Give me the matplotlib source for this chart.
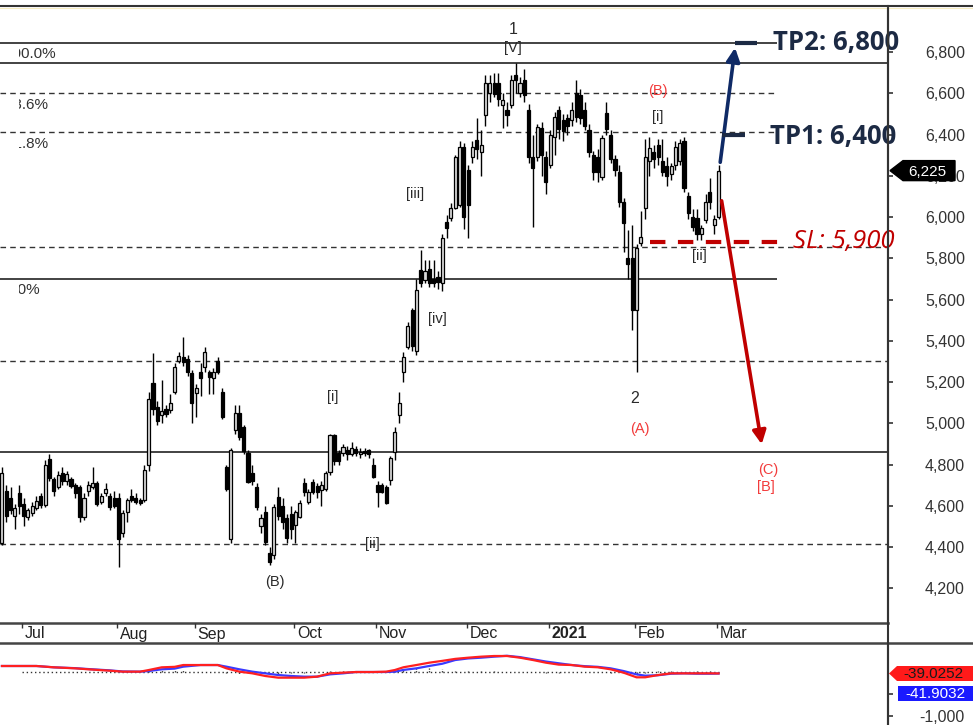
import matplotlib
matplotlib.use('Agg')
import matplotlib.pyplot as plt
from matplotlib.patches import Polygon, FancyArrowPatch
from matplotlib.lines import Line2D
from matplotlib.ticker import FuncFormatter
from matplotlib.transforms import blended_transform_factory, Bbox, TransformedBbox
import numpy as np

# ---------------- data ----------------
opens = [4420,4670,4640,4550,4660,4610,4545,4565,4590,4650,4605,4825,4730,4690,4760,4720,4730,4700,4690,4545,
         4670,4690,4710,4620,4660,4650,4640,4640,4470,4570,4650,4640,4630,4630,4800,5195,5080,5040,5070,5065,
         5150,5300,5320,5310,5245,5145,5250,5275,5250,5220,5300,5150,4790,4440,4970,5050,4980,4855,4760,4690,
         4500,4570,4370,4360,4645,4600,4540,4560,4505,4545,4710,4620,4715,4695,4677,4680,4765,4945,4855,4855,
         4870,4850,4875,4850,4868,4870,4800,4700,4700,4690,4725,4860,5040,5250,5370,5550,5350,5745,5695,5750,
         5700,5710,5680,5975,5995,6045,6060,6340,6230,6290,6373,6315,6495,6600,6650,6650,6545,6520,6545,6690,
         6600,6665,6520,6290,6290,6430,6290,6250,6390,6520,6470,6480,6470,6600,6590,6520,6420,6300,6290,6195,
         6505,6400,6280,6220,6075,5800,5800,5550,5875,6045,6270,6315,6350,6270,6245,6210,6250,6270,6370,6100,
         6000,5995,5920,5985,6120,5960,6000]
highs = [4790,4700,4690,4610,4700,4640,4590,4620,4650,4660,4820,4850,4740,4770,4790,4770,4740,4710,4700,4660,
         4720,4790,4720,4660,4710,4660,4670,4660,4580,4640,4680,4660,4640,4800,5150,5340,5110,5210,5090,5140,
         5290,5345,5420,5330,5260,5190,5290,5370,5260,5270,5320,5170,4800,4880,5090,5090,4990,4870,4800,4710,
         4560,4600,4400,4610,4690,4640,4560,4600,4580,4630,4735,4680,4730,4710,4720,4770,4950,4950,4870,4900,
         4890,4910,4890,4880,4880,4875,4830,4720,4710,4700,4840,4980,5150,5345,5490,5560,5700,5840,5790,5790,
         5790,5740,5920,6010,6070,6300,6370,6360,6250,6370,6480,6420,6690,6690,6700,6700,6600,6560,6690,6747,
         6680,6720,6550,6400,6450,6460,6320,6420,6510,6540,6500,6500,6560,6665,6620,6560,6450,6320,6330,6400,
         6560,6420,6300,6250,6090,5935,5960,5870,6030,6380,6390,6350,6380,6380,6290,6260,6370,6380,6390,6120,
         6040,6040,5960,6110,6190,6010,6250]
lows = [4410,4520,4560,4490,4560,4500,4530,4550,4580,4590,4595,4720,4650,4680,4700,4700,4685,4640,4520,4530,
        4650,4680,4600,4610,4650,4580,4590,4305,4450,4520,4620,4610,4605,4620,4770,5040,4990,5000,5030,5050,
        5140,5290,5280,5230,5000,5030,5130,5250,5140,5140,5240,5020,4670,4420,4950,4920,4850,4710,4700,4580,
        4470,4410,4315,4340,4530,4490,4420,4440,4420,4540,4650,4610,4655,4640,4600,4670,4750,4800,4800,4840,
        4820,4840,4840,4830,4840,4830,4735,4595,4660,4610,4700,4820,5000,5200,5360,5350,5330,5660,5680,5660,
        5660,5650,5640,5900,5980,6040,6050,5940,5900,6260,6280,6200,6440,6560,6580,6540,6430,6440,6530,6600,
        6580,6560,6260,5950,6270,6200,6110,6240,6300,6380,6370,6400,6440,6460,6450,6420,6290,6180,6170,6180,
        6400,6260,6200,6050,5830,5700,5450,5250,5860,5990,6200,6240,6250,6200,6150,6180,6230,6250,6120,5990,
        5930,5890,5890,5970,6040,5920,5990]
closes = [4760,4550,4580,4590,4600,4550,4580,4600,4625,4605,4800,4735,4670,4750,4720,4755,4695,4660,4545,4640,
          4700,4710,4610,4650,4680,4595,4600,4440,4565,4630,4630,4620,4615,4775,5120,5070,5010,5060,5045,5100,
          5275,5325,5295,5250,5100,5170,5220,5345,5225,5250,5250,5030,4680,4870,5050,4935,4865,4715,4720,4595,
          4540,4425,4330,4595,4550,4520,4445,4490,4570,4615,4665,4668,4665,4665,4700,4760,4945,4815,4815,4885,
          4850,4880,4858,4862,4855,4850,4742,4665,4665,4615,4832,4958,5100,5322,5470,5375,5645,5680,5740,5680,
          5680,5685,5900,5945,6045,6290,6340,6000,6060,6340,6330,6350,6650,6650,6595,6570,6568,6495,6665,6665,
          6650,6590,6290,6240,6435,6300,6170,6400,6485,6425,6415,6440,6520,6485,6480,6440,6315,6220,6220,6383,
          6425,6280,6230,6075,5970,5770,5550,5850,5905,6290,6335,6280,6290,6220,6200,6245,6340,6360,6140,6020,
          5950,5920,5945,6075,6075,5990,6225]

month_labels = ['Jul', 'Aug', 'Sep', 'Oct', 'Nov', 'Dec', '2021', 'Feb', 'Mar']
month_first_idx = [5, 27, 45, 68, 87, 108, 127, 147, 166]

price_ticks = [4200, 4400, 4600, 4800, 5000, 5200, 5400, 5600, 5800, 6000, 6200, 6400, 6600, 6800]

fib_levels_short = [6844, 6600, 6412, 5700]
fib_styles_short = ['-', '--', '--', '-']
fib_labels_short = ['100.0%', '78.6%', '61.8%', '0.0%']
levels_full = [6747, 5855, 5302, 4861, 4415]
levels_full_styles = ['-', '--', '--', '-', '--']

last_price = 6225
tp1, tp2, sl = 6400, 6844, 5880

macd_idx = [0,5,8,12,17,20,25,28,32,34,37,40,42,46,50,52,55,58,61,64,67,70,73,76,79,82,86,89,91,93,
            96,99,102,105,108,111,114,117,120,123,126,129,132,135,138,141,144,147,149,152,155,158,161,164,166]
macd_red = [129,129,129,99,76,54,23,1,1,38,99,110,151,151,151,76,1,-37,-97,-135,-135,-135,-112,-37,-22,-7,-7,1,38,100,
            151,204,245,290,317,340,355,355,317,264,204,160,151,114,100,54,-22,-127,-127,-75,-37,-37,-37,-37,-39]
macd_blue = [129,129,129,99,80,60,30,5,1,15,54,70,114,151,151,114,54,1,-37,-75,-97,-112,-112,-60,-37,-7,-7,-7,1,40,
             76,130,180,264,300,317,340,360,330,280,230,190,151,125,110,76,15,-60,-90,-80,-45,-37,-45,-45,-42]
macd_ticks = [-1000, -500]
macd_tick_labels = ['-1,000', '']
macd_last_red, macd_last_blue = '-39.0252', '-41.9032'

# ---------------- figure ----------------
W, H = 973, 725
fig = plt.figure(figsize=(W / 100, H / 100), dpi=100)
fig.patch.set_facecolor('white')

def fy(py):
    return 1 - py / H

def px(x):
    return x / W

XL = (-0.45, 205.25)
LABEL_FONT = 'Liberation Sans'
DARK = '#2a2a2a'

ax = fig.add_axes([0, fy(623), 888 / W, (623 - 6) / H])
ax.set_xlim(*XL)
ax.set_ylim(4032, 7023)
ax.set_facecolor('white')

idx = np.arange(len(closes))
o = np.array(opens); c = np.array(closes); hi = np.array(highs); lo = np.array(lows)
up = c >= o
ax.vlines(idx, lo, hi, color='black', lw=1.0, zorder=3)
body_bottom = np.minimum(o, c)
body_h = np.maximum(np.abs(c - o), 8)
ax.bar(idx[up], body_h[up], bottom=body_bottom[up], width=0.72, color='#dcdcdc',
       edgecolor='black', linewidth=0.9, zorder=4)
ax.bar(idx[~up], body_h[~up], bottom=body_bottom[~up], width=0.72, color='black',
       edgecolor='black', linewidth=0.9, zorder=4)

# horizontal levels
short_end = 179.5
label_clip = TransformedBbox(Bbox([[19 / W, 0], [888 / W, 1]]), fig.transFigure)
for lev, st, lab in zip(fib_levels_short, fib_styles_short, fib_labels_short):
    if st == '-':
        ax.hlines(lev, XL[0], short_end, color='#222222', lw=1.2, zorder=2)
    else:
        ax.hlines(lev, XL[0], short_end, color='#333333', lw=1.0, linestyles=(0, (4, 3)), zorder=2)
    t = ax.text(0.75, lev - 22, lab, ha='left', va='top', fontsize=11, family=LABEL_FONT,
                color='#333333', zorder=2)
    t.set_clip_box(label_clip)
    t.set_clip_on(True)
for lev, st in zip(levels_full, levels_full_styles):
    if st == '-':
        ax.hlines(lev, XL[0], XL[1], color='#222222', lw=1.2, zorder=2)
    else:
        ax.hlines(lev, XL[0], XL[1], color='#333333', lw=1.0, linestyles=(0, (4, 3)), zorder=2)

# axis styling
ax.yaxis.tick_right()
ax.set_yticks(price_ticks)
ax.yaxis.set_major_formatter(FuncFormatter(lambda v, p: f'{int(v):,}'))
ax.tick_params(axis='y', direction='out', length=3.6, width=1.2, pad=23, labelsize=11.5,
               colors='#333333')
for lbl in ax.get_yticklabels():
    lbl.set_family(LABEL_FONT)
ax.set_xticks([])
for s in ['left', 'top']:
    ax.spines[s].set_visible(False)
ax.spines['right'].set_linewidth(1.5); ax.spines['right'].set_color('#333333')
ax.spines['bottom'].set_linewidth(1.8); ax.spines['bottom'].set_color('#444444')

# wave labels
def wl(x, y, s, color=DARK, size=10.5):
    ax.text(x, y, s, ha='center', va='center', fontsize=size, family=LABEL_FONT,
            color=color, zorder=6)

RED_LBL = '#f23c3c'
wl(118.4, 6911, '1', size=11.5)
wl(118.4, 6819, '[V]')
wl(95.7, 6112, '[iii]')
wl(100.8, 5506, '[iv]')
wl(76.5, 5128, '[i]')
wl(85.9, 4415, '[ii]')
wl(63.3, 4231, '(B)')
wl(146.6, 5118, '2', size=11.5)
wl(147.8, 4973, '(A)', color=RED_LBL)
wl(152.0, 6611, '(B)', color=RED_LBL)
wl(152.0, 6485, '[i]')
wl(161.5, 5811, '[ii]')
wl(177.5, 4774, '(C)', color=RED_LBL)
wl(177.0, 4692, '[B]', color=RED_LBL)

# trade plan
NAVY = '#0f2a66'
TPC = '#1c2a44'
SLC = '#c00000'
ax.add_patch(FancyArrowPatch((166.3, 6252), (169.9, tp2 - 10), arrowstyle='-|>', mutation_scale=20,
                             color=NAVY, lw=2.6, zorder=7, clip_on=False))
ax.hlines(tp2, 169.8, 174.9, color=TPC, lw=3, zorder=7)
ax.hlines(tp1, 166.8, 172.1, color=TPC, lw=3, zorder=7)
ax.add_patch(FancyArrowPatch((166.6, 6092), (176.1, 4885), arrowstyle='-|>', mutation_scale=20,
                             color=SLC, lw=2.6, zorder=7, clip_on=False))
ax.hlines(sl, 150.1, 180.2, color=SLC, lw=3, linestyles=(0, (3.7, 3.0)), zorder=7)
ax.text(178.5, tp2, 'TP2: 6,800', ha='left', va='center', fontsize=18.5, family='Open Sans',
        weight='bold', color=TPC, zorder=8, clip_on=False)
ax.text(178.0, tp1 - 10, 'TP1: 6,400', ha='left', va='center', fontsize=18.5, family='Open Sans',
        weight='bold', color=TPC, zorder=8, clip_on=False)
ax.text(183.3, sl, 'SL: 5,900', ha='left', va='center', fontsize=18.5, family=['Open Sans', 'DejaVu Sans'],
        style='italic', color=SLC, zorder=8, clip_on=False)

# last price marker
trp = blended_transform_factory(fig.transFigure, ax.transData)
ppx = 4.85  # price units per pixel
mk = Polygon([(px(890), last_price), (px(903), last_price + 10 * ppx), (px(955), last_price + 10 * ppx),
              (px(955), last_price - 10 * ppx), (px(903), last_price - 10 * ppx)],
             closed=True, transform=trp, facecolor='black', edgecolor='black', clip_on=False, zorder=10)
fig.patches.append(mk)
fig.text(px(927), fy(171.5), f'{last_price:,}', ha='center', va='center', color='white',
         fontsize=11, family=LABEL_FONT, zorder=11)

# ---------------- date strip ----------------
axd = fig.add_axes([0, fy(643), 888 / W, 20 / H])
axd.set_xlim(*XL); axd.set_ylim(0, 1)
axd.axis('off')
for mi, ml in zip(month_first_idx, month_labels):
    axd.vlines(mi - 0.35, 0.75, 1.0, color='#333333', lw=1.0)
    axd.text(mi + 0.3, 0.45, ml, ha='left', va='center', fontsize=11.5, family=LABEL_FONT,
             color='#222222', weight='bold' if ml == '2021' else 'normal')

# ---------------- MACD ----------------
axm = fig.add_axes([0, 0, 888 / W, (725 - 643) / H])
axm.set_xlim(*XL)
axm.set_ylim(-1205, 649)
axm.plot(macd_idx, macd_blue, color='#3a3aff', lw=1.6, zorder=3)
axm.plot(macd_idx, macd_red, color='#ff2020', lw=1.6, zorder=4)
axm.hlines(0, 4.6, 166, color='#333333', lw=1.0, linestyles=(0, (1, 2)), zorder=2)
diff = np.array(macd_red) - np.array(macd_blue)
axm.vlines(macd_idx, 0, diff, color='#333333', lw=1.0, linestyles=(0, (1, 1)), zorder=2)
axm.yaxis.tick_right()
axm.set_yticks(macd_ticks)
axm.set_yticklabels(macd_tick_labels)
axm.tick_params(axis='y', direction='out', length=3.6, width=1.2, pad=19, labelsize=11.5, colors='#333333')
for lbl in axm.get_yticklabels():
    lbl.set_family(LABEL_FONT)
axm.set_xticks([])
for s in ['left', 'top', 'bottom']:
    axm.spines[s].set_visible(False)
axm.spines['right'].set_linewidth(1.5); axm.spines['right'].set_color('#333333')

# MACD value boxes
fig.patches.append(Polygon([(px(889), fy(673.5)), (px(897), fy(666)), (px(973), fy(666)),
                            (px(973), fy(681)), (px(897), fy(681))], closed=True,
                           transform=fig.transFigure, facecolor='#ff1a1a', edgecolor='none', zorder=10))
fig.text(px(933), fy(674), macd_last_red, ha='center', va='center', fontsize=11, family=LABEL_FONT,
         color='#1a1a1a', zorder=11)
fig.patches.append(Polygon([(px(898), fy(686)), (px(973), fy(686)), (px(973), fy(701)), (px(898), fy(701))],
                           closed=True, transform=fig.transFigure, facecolor='#1a1aff', edgecolor='none',
                           zorder=10))
fig.text(px(935), fy(693.5), macd_last_blue, ha='center', va='center', fontsize=11, family=LABEL_FONT,
         color='white', zorder=11)

# ---------------- frame lines ----------------
fig.add_artist(Line2D([0, 1], [fy(6), fy(6)], transform=fig.transFigure, color='#333333', lw=1.5))
fig.add_artist(Line2D([0, 1], [fy(7.6), fy(7.6)], transform=fig.transFigure, color='#f6ecc0', lw=0.8))
fig.add_artist(Line2D([0, 1], [fy(643), fy(643)], transform=fig.transFigure, color='#444444', lw=1.8))
fig.add_artist(Line2D([px(888), px(888)], [fy(9), 0], transform=fig.transFigure, color='#333333', lw=1.5))

fig.savefig('out.png', dpi=100, facecolor='white')
